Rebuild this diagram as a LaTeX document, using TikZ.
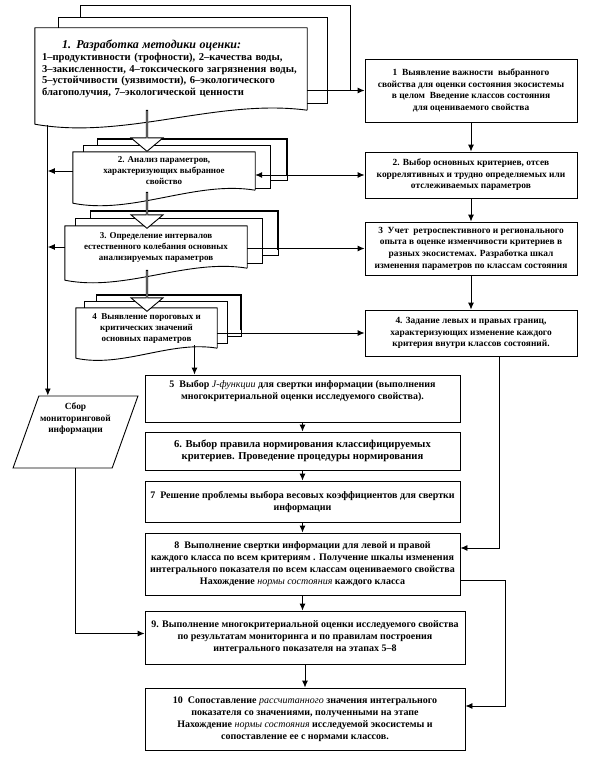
\documentclass[tikz,border=0pt]{standalone}
\usepackage{fontspec}
\setmainfont{Liberation Serif}
\usetikzlibrary{arrows.meta,shapes.geometric,shapes.arrows}

\begin{document}
\begin{tikzpicture}[x=1pt,y=-1pt,
    every node/.style={font=\bfseries\fontsize{9.4}{11.6}\selectfont,align=center,inner sep=0pt},
    box/.style={draw,line width=0.9pt,fill=white},
    lowbox/.style={box,minimum width=315pt,font=\bfseries\fontsize{10}{12}\selectfont},
    docfront/.style={fill=white,font=\bfseries\fontsize{9}{11}\selectfont},
    docline/.style={line width=0.9pt,line join=round},
    layer/.style={line width=0.9pt,fill=white},
    shade/.style={line width=2.6pt},
    bigarrow/.style={single arrow,draw,line width=0.9pt,fill=white,shape border rotate=270,
      single arrow head extend=9pt,single arrow tip angle=100,minimum width=32pt},
    arr/.style={line width=0.9pt,-{Latex[length=7pt,width=6pt]}},
    arrboth/.style={line width=0.9pt,{Latex[length=7pt,width=6pt]}-{Latex[length=7pt,width=6pt]}}]
    \useasboundingbox (0,0) rectangle (615,757);

    % stack 1
    \draw[layer] (80,5) rectangle (350,90);
    \draw[layer] (58,17) rectangle (327,103);
    \node[docfront,minimum width=272pt,minimum height=82pt,text width=258pt,align=left,
          font=\bfseries\fontsize{10.6}{11.8}\selectfont] (d1) at (171,69)
      {\hspace*{20pt}{\itshape\fontsize{12}{12}\selectfont 1. Разработка методики оценки:}\\
       1–продуктивности (трофности), 2–качества воды,\\
       3–закисленности, 4–токсического загрязнения воды,\\
       5–устойчивости (уязвимости), 6–экологического\\
       благополучия, 7–экологической ценности};
    \draw[docline] (d1.south east) -- (d1.north east) -- (d1.north west) -- ([yshift=-14pt]d1.south west)
          .. controls +(90,16) and +(-90,-12) .. (d1.south east);

    % stack 2
    \draw[layer] (97,139) rectangle (287,180);
    \draw[shade] (97,139) -- (287,139) -- (287,176);
    \draw[layer] (83,145) rectangle (270,188);
    \node[docfront,minimum width=182pt,minimum height=38pt] (d2) at (164,171)
      {2. Анализ параметров,\\характеризующих выбранное\\свойство};
    \draw[docline] (d2.south east) -- (d2.north east) -- (d2.north west) -- ([yshift=-13pt]d2.south west)
          .. controls +(60,12) and +(-60,-10) .. (d2.south east);

    % stack 3
    \draw[layer] (90,211) rectangle (278,255);
    \draw[shade] (90,211) -- (278,211) -- (278,250);
    \draw[layer] (75,218) rectangle (262,263);
    \node[docfront,minimum width=182pt,minimum height=42pt] (d3) at (156,247)
      {3. Определение интервалов\\естественного колебания основных\\анализируемых параметров};
    \draw[docline] (d3.south east) -- (d3.north east) -- (d3.north west) -- ([yshift=-12pt]d3.south west)
          .. controls +(60,12) and +(-60,-10) .. (d3.south east);

    % stack 4
    \draw[layer] (96,295) rectangle (241,336);
    \draw[shade] (96,295) -- (241,295) -- (241,330);
    \draw[layer] (84,301) rectangle (227,343);
    \node[docfront,minimum width=141pt,minimum height=40pt] (d4) at (146.5,328)
      {4 \ Выявление пороговых и\\критических значений\\основных параметров};
    \draw[docline] (d4.south east) -- (d4.north east) -- (d4.north west) -- ([yshift=-10pt]d4.south west)
          .. controls +(47,10) and +(-47,-8) .. (d4.south east);

    % block arrows between the stacks
    \node[bigarrow,minimum height=41pt] (a12) at (147,130.5) {};
    \node[bigarrow,minimum height=36pt] (a23) at (147,210) {};
    \node[bigarrow,minimum height=41pt] (a34) at (147,290.5) {};

    % right column
    \node[box,minimum width=212pt,minimum height=63pt] (r1) at (471,90.5)
      {1 \ Выявление важности \ выбранного\\свойства для оценки состояния экосистемы\\
       в целом \ Введение классов состояния\\для оцениваемого свойства};
    \node[box,minimum width=212pt,minimum height=46pt] (r2) at (471,175)
      {2. Выбор основных критериев, отсев\\коррелятивных и трудно определяемых или\\
       отслеживаемых параметров};
    \node[box,minimum width=212pt,minimum height=53pt] (r3) at (471,248.5)
      {3 \ Учет \ ретроспективного и регионального\\опыта в оценке изменчивости критериев в\\
       разных экосистемах. Разработка шкал\\изменения параметров по классам состояния};
    \node[box,minimum width=212pt,minimum height=46pt] (r4) at (471,333)
      {4. Задание левых и правых границ,\\характеризующих изменение каждого\\
       критерия внутри классов состояний.};

    % monitoring
    \node[trapezium,draw,line width=0.9pt,trapezium left angle=67,trapezium right angle=113,
          trapezium stretches=true,minimum width=125pt,minimum height=72pt] (mon) at (75.5,432)
      {Сбор\\мониторинговой\\информации\\[17pt]\mbox{}};

    % lower column
    \node[lowbox,minimum height=47pt] (b5) at (302.5,398.5)
      {5 \ Выбор {\mdseries\itshape J-функции} для свертки информации (выполнения\\
       многокритериальной оценки исследуемого свойства).\\[6pt]\mbox{}};
    \node[lowbox,minimum height=38pt,font=\bfseries\fontsize{10.6}{12}\selectfont] (b6) at (302.5,451)
      {6. Выбор правила нормирования классифицируемых\\критериев. Проведение процедуры нормирования};
    \node[lowbox,minimum height=41pt] (b7) at (302.5,501.5)
      {7 \ Решение проблемы выбора весовых коэффициентов для свертки\\информации};
    \node[lowbox,minimum height=62pt] (b8) at (302.5,564)
      {8 \ Выполнение свертки информации для левой и правой\\
       каждого класса по всем критериям . Получение шкалы изменения\\
       интегрального показателя по всем классам оцениваемого свойства\\
       Нахождение {\mdseries\itshape нормы состояния} каждого класса};
    \node[lowbox,minimum width=320pt,minimum height=53pt] (b9) at (305,637.5)
      {9. Выполнение многокритериальной оценки исследуемого свойства\\
       по результатам мониторинга и по правилам построения\\
       интегрального показателя на этапах 5–8};
    \node[lowbox,minimum width=320pt,minimum height=62pt] (b10) at (305,719)
      {10 \ Сопоставление {\mdseries\itshape рассчитанного} значения интегрального\\
       показателя со значениями, полученными на этапе\\
       Нахождение {\mdseries\itshape нормы состояния} исследуемой экосистемы и\\
       сопоставление ее с нормами классов.};

    % connectors
    \coordinate (ltop) at ([xshift=13pt,yshift=-15pt]d1.south west);
    \draw[arr] (d1.east |- r1.west) -- (r1.west);
    \draw[arr] (r1.south) -- (r2.north);
    \draw[arr] (r2.south) -- (r3.north);
    \draw[arr] (r3.south) -- (r4.north);
    \draw[arrboth] (d2.east |- r2.west) -- (r2.west);
    \draw[arr] (d3.east |- r3.west) -- (r3.west);
    \draw[arr] (d4.east |- r4.west) -- (r4.west);
    \draw[arr] (ltop) -- (ltop |- mon.north);
    \draw[arr] (d2.west) -- (d2.west -| ltop);
    \draw[arr] (d3.west) -- (d3.west -| ltop);
    \draw[arr] ([xshift=48pt,yshift=3pt]d4.south) -- ([xshift=48pt]d4.south |- b5.north);
    \draw[arr] (b5.south) -- (b6.north);
    \draw[arr] (b6.south) -- (b7.north);
    \draw[arr] (b7.south) -- (b8.north);
    \draw[arr] (b8.south) -- (b8.south |- b9.north);
    \draw[arr] (b9.south) -- (b10.north);
    \draw[arr] (mon.south) |- ([yshift=4pt]b9.west);
    \draw[arr] ([xshift=28pt]r4.south) |- ([yshift=16pt]b8.east);
    \draw[arr] ([yshift=-16pt]b8.east) -- ++(45,0) |- ([yshift=13pt]b10.east);
\end{tikzpicture}
\end{document}
